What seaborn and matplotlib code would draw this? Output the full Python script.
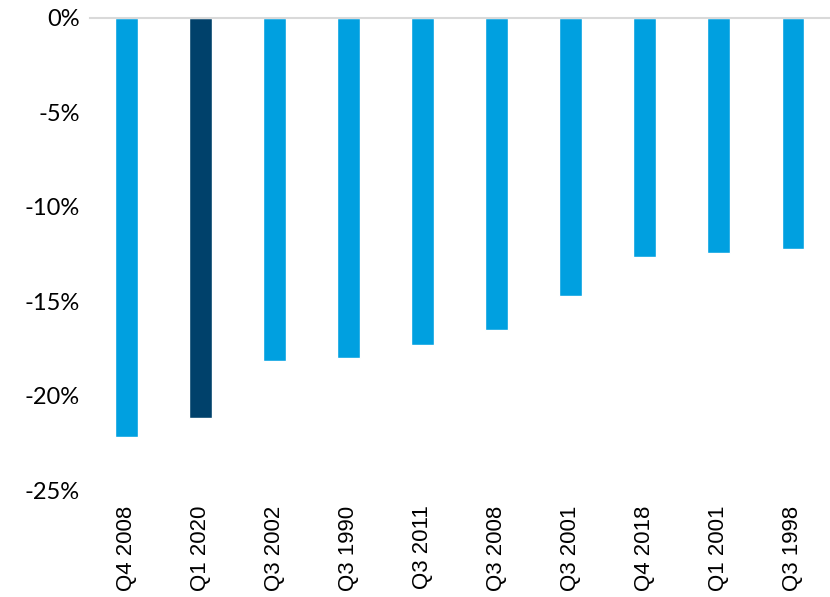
import seaborn as sns
import pandas as pd
import matplotlib.pyplot as plt
from matplotlib.ticker import FuncFormatter

quarters = ["Q4 2008", "Q1 2020", "Q3 2002", "Q3 1990", "Q3 2011",
            "Q3 2008", "Q3 2001", "Q4 2018", "Q1 2001", "Q3 1998"]
change_pct = [-22.2, -21.2, -18.15, -18.0, -17.3, -16.5, -14.7, -12.65, -12.45, -12.25]
highlight = ["other", "current", "other", "other", "other",
             "other", "other", "other", "other", "other"]

light_blue = "#00A0E0"
dark_blue = "#00416B"

df = pd.DataFrame({"quarter": quarters, "change": change_pct, "group": highlight})

sns.set_style("white")
plt.rcParams["font.family"] = ["Liberation Sans", "DejaVu Sans"]

fig = plt.figure(figsize=(8.3, 5.97), dpi=100)
ax = fig.add_axes([0.108, 0.179, 0.892, 0.791])

sns.barplot(data=df, x="quarter", y="change", hue="group",
            palette={"other": light_blue, "current": dark_blue},
            width=0.31, dodge=False, legend=False, saturation=1, ax=ax)

ax.set_ylim(-25, 0)
ax.set_xlim(-0.5, 9.5)
ax.set_yticks([0, -5, -10, -15, -20, -25])
ax.yaxis.set_major_formatter(FuncFormatter(lambda v, p: f"{v:.0f}%"))
ax.set_xticks(range(len(quarters)))
ax.set_xticklabels(quarters, rotation=90, fontsize=16,
                   fontfamily="Liberation Sans", color="black")
ax.set_xlabel("")
ax.set_ylabel("")

for s in ["left", "right", "bottom"]:
    ax.spines[s].set_visible(False)
ax.spines["top"].set_color("#d9d9d9")
ax.spines["top"].set_linewidth(1.5)

ax.tick_params(axis="both", length=0)
ax.tick_params(axis="y", pad=7, labelsize=17, labelcolor="black",
               labelfontfamily="Lato")
ax.tick_params(axis="x", pad=11)

fig.savefig("out.png", dpi=100)
